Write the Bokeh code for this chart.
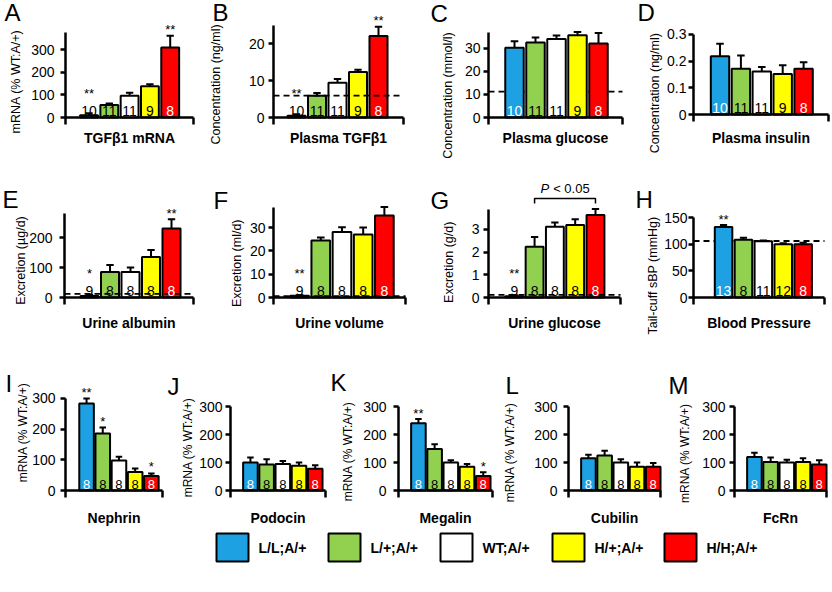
import math
from bokeh.plotting import figure
from bokeh.layouts import row, column
from bokeh.models import (FixedTicker, Label, Range1d, CustomJSTickFormatter, LinearAxis)
from bokeh.core.properties import value
from bokeh.embed import file_html
from bokeh.resources import INLINE

FONT = "Liberation Sans"

# ---------------- data ----------------
groups = ["L/L;A/+", "L/+;A/+", "WT;A/+", "H/+;A/+", "H/H;A/+"]
colors = ["#1DA1E2", "#92D050", "#FFFFFF", "#FFFF00", "#FF0000"]
n_colors = ["white", "black", "black", "black", "white"]

A_mean = [10, 55, 96, 138, 310]
A_err = [19, 62, 110, 147, 362]
A_n = ["10", "11", "11", "9", "8"]
A_sig = ["**", "", "", "", "**"]

B_mean = [0.5, 5.9, 9.4, 12.3, 22.0]
B_err = [0.9, 6.6, 10.4, 12.9, 24.5]
B_n = ["10", "11", "11", "9", "8"]
B_sig = ["**", "", "", "", "**"]
B_ref = 5.9

C_mean = [30.2, 32.5, 34.0, 35.6, 32.0]
C_err = [33.0, 34.6, 35.5, 37.0, 36.6]
C_n = ["10", "11", "11", "9", "8"]
C_sig = ["", "", "", "", ""]
C_ref = 11.2

D_mean = [0.218, 0.171, 0.161, 0.152, 0.171]
D_err = [0.265, 0.221, 0.178, 0.184, 0.196]
D_n = ["10", "11", "11", "9", "8"]
D_sig = ["", "", "", "", ""]

E_mean = [5, 85, 85, 135, 230]
E_err = [9, 108, 100, 158, 261]
E_n = ["9", "8", "8", "8", "8"]
E_sig = ["*", "", "", "", "**"]
E_ref = 12

F_mean = [0.7, 24.5, 28.1, 27.0, 35.2]
F_err = [1.0, 25.7, 30.2, 30.0, 38.8]
F_n = ["9", "8", "8", "8", "8"]
F_sig = ["**", "", "", "", ""]
F_ref = 0.6

G_mean = [0.06, 2.24, 3.12, 3.19, 3.63]
G_err = [0.1, 2.66, 3.3, 3.45, 3.9]
G_n = ["9", "8", "8", "8", "8"]
G_sig = ["**", "", "", "", ""]
G_ref = 0.12
G_compare = ["L/+;A/+", "H/H;A/+"]
G_p_text = ["P", "< 0.05"]

H_mean = [132.5, 108.5, 105.5, 100.0, 100.0]
H_err = [136, 112, 107, 102, 102.5]
H_n = ["13", "8", "11", "12", "8"]
H_sig = ["**", "", "", "", ""]
H_ref = 106

I_mean = [283, 186, 98, 60, 47]
I_err = [300, 205, 110, 72, 55]
I_sig = ["**", "*", "", "", "*"]
J_mean = [100, 93, 95, 88, 78]
J_err = [118, 112, 105, 100, 90]
J_sig = ["", "", "", "", ""]
K_mean = [240, 148, 100, 85, 52]
K_err = [255, 165, 108, 95, 65]
K_sig = ["**", "", "", "", "*"]
L_mean = [115, 125, 100, 85, 85]
L_err = [128, 142, 112, 100, 98]
L_sig = ["", "", "", "", ""]
M_mean = [120, 102, 100, 102, 93]
M_err = [135, 118, 110, 115, 108]
M_sig = ["", "", "", "", ""]
IM_n = ["8", "8", "8", "8", "8"]

ticks_pct = [0, 100, 200, 300]

# ---------------- layout (page coordinates, px) ----------------
R1 = dict(fy0=0, fy1=168, fb=117, tstand=12, nfs="14px", npx=7, yfs="12.5px")
R2 = dict(fy0=168, fy1=342, fb=297, tstand=17, nfs="14px", npx=7, yfs="12.5px")
R3 = dict(fy0=342, fy1=528, fb=490, tstand=19, nfs="13px", npx=6.5, yfs="12px",
          bw=0.9, cap=0.2)

cfg = {
    "A": dict(R1, fx0=0, fx1=205, fl=65, fr=193, xs=-0.158, ppx=20.3, ppu=0.2257, ytop=375, ls=6, ylx=15, yly=81, lx=4, ly=11.5),
    "B": dict(R1, fx0=205, fx1=428, fl=273, fr=403, xs=-0.122, ppx=20.5, ppu=3.7, ytop=25, ls=4, ylx=215, yly=84, lx=212, ly=11.5),
    "C": dict(R1, fx0=428, fx1=634, fl=488, fr=622, xs=-0.238, ppx=21.0, ppu=2.31, ytop=37, ls=3, ylx=447, yly=95, lx=430, ly=12.5),
    "D": dict(R1, fx0=634, fx1=832, fl=693, fr=828, xs=-0.268, ppx=20.9, ppu=267.0, ytop=0.3, ls=2, ylx=654, yly=91, lx=637, ly=11.5, fb=114, tstand=15),
    "E": dict(R2, fx0=0, fx1=210, fl=64, fr=193, xs=-0.22, ppx=20.5, ppu=0.3, ytop=280, ls=7, ylx=20, yly=260, lx=2, ly=198.5),
    "F": dict(R2, fx0=210, fx1=426, fl=273, fr=405, xs=-0.23, ppx=21.2, ppu=2.33, ytop=38.6, ls=3, ylx=236, yly=261, lx=213, ly=199.5),
    "G": dict(R2, fx0=426, fx1=632, fl=488, fr=620, xs=-0.27, ppx=20.3, ppu=22.7, ytop=3.88, ls=4, ylx=448, yly=260, lx=430, ly=200),
    "H": dict(R2, fx0=632, fx1=832, fl=693, fr=824, xs=-0.51, ppx=19.9, ppu=0.533, ytop=150, ls=1, ylx=652, yly=275, lx=635, ly=198.5),
    "I": dict(R3, fx0=0, fx1=165, fl=65, fr=162, xs=-0.3, ppx=16.2, ppu=0.307, ytop=300, ls=5, ylx=22, yly=432, lx=5, ly=382.5),
    "J": dict(R3, fx0=165, fx1=328, fl=230, fr=325, xs=-0.23, ppx=16.2, ppu=0.28, ytop=300, ls=3, ylx=187, yly=447, lx=167, ly=386),
    "K": dict(R3, fx0=328, fx1=498, fl=398, fr=492, xs=-0.23, ppx=16.2, ppu=0.28, ytop=300, ls=7, ylx=347, yly=451, lx=330, ly=382),
    "L": dict(R3, fx0=498, fx1=664, fl=568, fr=660, xs=-0.23, ppx=16.2, ppu=0.28, ytop=300, ls=6, ylx=509, yly=452, lx=505, ly=385),
    "M": dict(R3, fx0=664, fx1=832, fl=734, fr=826, xs=-0.23, ppx=16.2, ppu=0.28, ytop=300, ls=4, ylx=684, yly=451, lx=668, ly=385),
}

LEG = dict(fy0=528, fy1=592, x0=216, pitch=112, box_w=32, box_h=28, cy=547, gap=10)

fmt = CustomJSTickFormatter(code="return String(Math.round(tick*1000)/1000);")


def style_axis(ax):
    ax.axis_line_width = 2.5
    ax.axis_line_color = "black"
    ax.major_tick_line_width = 2.5
    ax.major_tick_in = 0
    ax.minor_tick_in = 0
    ax.minor_tick_out = 0


def panel(key, mean, err, n, sig, ticks, ylabel, title,
          ref=None, ref_front=True, compare=None, ptext=None):
    c = cfg[key]
    W = c["fx1"] - c["fx0"]
    Hh = c["fy1"] - c["fy0"]
    ppx, ppu = c["ppx"], c["ppu"]
    xs = c["xs"]
    xe = xs + (c["fr"] - c["fl"]) / ppx
    x_lo = xs - (c["fl"] - c["fx0"]) / ppx
    x_hi = x_lo + W / ppx
    y_lo = -(c["fy1"] - c["fb"]) / ppu
    y_hi = (c["fb"] - c["fy0"]) / ppu
    p = figure(width=W, height=Hh, output_backend="svg", toolbar_location=None,
               title=None, x_axis_type=None, y_axis_type=None,
               x_range=Range1d(x_lo, x_hi), y_range=Range1d(y_lo, y_hi),
               min_border_left=0, min_border_right=0, min_border_top=0, min_border_bottom=0)
    p.outline_line_color = None
    p.background_fill_color = "white"

    xsv = [i + 1 for i in range(len(groups))]
    if ref is not None and not ref_front:
        p.segment(x0=[xs], y0=[ref], x1=[xe], y1=[ref], line_color="black",
                  line_width=1.8, line_dash="6 4")
    p.vbar(x=xsv, top=mean, bottom=0, width=c.get("bw", 0.88), fill_color=colors,
           line_color="black", line_width=2)
    p.segment(x0=xsv, y0=mean, x1=xsv, y1=err, line_color="black", line_width=2)
    cw = c.get("cap", 0.18)
    p.segment(x0=[x - cw for x in xsv], y0=err, x1=[x + cw for x in xsv], y1=err,
              line_color="black", line_width=2)
    if ref is not None and ref_front:
        p.segment(x0=[xs], y0=[ref], x1=[xe], y1=[ref], line_color="black",
                  line_width=1.8, line_dash="6 4")

    tc = [n_colors[i] if mean[i] * ppu >= 12 else "black" for i in range(len(groups))]
    p.text(x=xsv, y=[c["npx"] / ppu] * len(groups), text=n, text_color=tc,
           text_font=value(FONT), text_font_size=c["nfs"], text_align="center",
           text_baseline="middle")

    sx, sy, st = [], [], []
    for i in range(len(groups)):
        if sig[i]:
            sx.append(xsv[i])
            sy.append(max(err[i] * ppu + 6, 24) / ppu)
            st.append(sig[i])
    if sx:
        p.text(x=sx, y=sy, text=st, text_font=value(FONT), text_font_size="13px",
               text_align="center", text_baseline="middle", text_color="black")

    if compare is not None:
        i0 = groups.index(compare[0])
        i1 = groups.index(compare[1])
        top = max(err[i0:i1 + 1]) + 10.5 / ppu
        drop = 5 / ppu
        p.line(x=[xsv[i0], xsv[i0], xsv[i1], xsv[i1]], y=[top - drop, top, top, top - drop],
               line_color="black", line_width=1.5)
        cx = (xsv[i0] + xsv[i1]) / 2
        ty = top + 10 / ppu
        p.text(x=[cx], y=[ty], text=[ptext[0]], text_font=value(FONT),
               text_font_size="13px", text_font_style="italic", text_align="left",
               text_baseline="middle", x_offset=-24.5)
        p.text(x=[cx], y=[ty], text=[ptext[1]], text_font=value(FONT),
               text_font_size="13px", text_align="left", text_baseline="middle",
               x_offset=-11.9)

    # y axis (fixed at the left end of the bar area)
    ya = LinearAxis(fixed_location=xs, bounds=(-7 / ppu, c["ytop"]),
                    ticker=FixedTicker(ticks=ticks), formatter=fmt)
    style_axis(ya)
    ya.major_tick_out = 5
    ya.major_label_text_font = FONT
    ya.major_label_text_font_size = "14px"
    ya.major_label_text_color = "black"
    ya.major_label_standoff = c["ls"]
    p.add_layout(ya, "left")

    # x axis (baseline) carrying the panel title
    xa = LinearAxis(fixed_location=0, bounds=(xs, xe), ticker=FixedTicker(ticks=[]),
                    formatter=fmt)
    style_axis(xa)
    xa.major_tick_out = 0
    xa.axis_label = title
    xa.axis_label_text_font = FONT
    xa.axis_label_text_font_style = "bold"
    xa.axis_label_text_font_size = "14px"
    xa.axis_label_text_color = "black"
    xa.axis_label_standoff = c["tstand"]
    p.add_layout(xa, "below")

    # short downward end mark at the right end of the baseline
    xr = LinearAxis(fixed_location=xe, bounds=(-7 / ppu, 0), ticker=FixedTicker(ticks=[]),
                    formatter=fmt)
    style_axis(xr)
    xr.major_tick_out = 0
    p.add_layout(xr, "left")

    p.add_layout(Label(x=c["ylx"] - c["fx0"], y=c["fy1"] - c["yly"], x_units="screen",
                       y_units="screen", text=ylabel, angle=math.pi / 2,
                       text_align="center", text_baseline="middle", text_font=FONT,
                       text_font_size=c["yfs"], text_color="black"))
    p.add_layout(Label(x=c["lx"] - c["fx0"], y=c["fy1"] - c["ly"], x_units="screen",
                       y_units="screen", text=key, text_align="left",
                       text_baseline="middle", text_font=FONT, text_font_size="24px",
                       text_color="black"))
    return p


pA = panel("A", A_mean, A_err, A_n, A_sig, ticks_pct, "mRNA (% WT:A/+)", "TGFβ1 mRNA")
pB = panel("B", B_mean, B_err, B_n, B_sig, [0, 10, 20], "Concentration (ng/ml)",
           "Plasma TGFβ1", ref=B_ref)
pC = panel("C", C_mean, C_err, C_n, C_sig, [0, 10, 20, 30], "Concentration (mmol/l)",
           "Plasma glucose", ref=C_ref, ref_front=False)
pD = panel("D", D_mean, D_err, D_n, D_sig, [0, 0.1, 0.2, 0.3], "Concentration  (ng/ml)",
           "Plasma insulin")
pE = panel("E", E_mean, E_err, E_n, E_sig, [0, 100, 200], "Excretion (µg/d)",
           "Urine albumin", ref=E_ref)
pF = panel("F", F_mean, F_err, F_n, F_sig, [0, 10, 20, 30], "Excretion  (ml/d)",
           "Urine volume", ref=F_ref)
pG = panel("G", G_mean, G_err, G_n, G_sig, [0, 1, 2, 3], "Excretion  (g/d)",
           "Urine glucose", ref=G_ref, compare=G_compare, ptext=G_p_text)
pH = panel("H", H_mean, H_err, H_n, H_sig, [0, 50, 100, 150], "Tail-cuff sBP (mmHg)",
           "Blood Pressure", ref=H_ref, ref_front=False)
pI = panel("I", I_mean, I_err, IM_n, I_sig, ticks_pct, "mRNA (% WT:A/+)", "Nephrin")
pJ = panel("J", J_mean, J_err, IM_n, J_sig, ticks_pct, "mRNA (% WT:A/+)", "Podocin")
pK = panel("K", K_mean, K_err, IM_n, K_sig, ticks_pct, "mRNA (% WT:A/+)", "Megalin")
pL = panel("L", L_mean, L_err, IM_n, L_sig, ticks_pct, "mRNA (% WT:A/+)", "Cubilin")
pM = panel("M", M_mean, M_err, IM_n, M_sig, ticks_pct, "mRNA  (% WT:A/+)", "FcRn")

# ---------------- legend (swatches + labels from the group arrays) ----------------
LH = LEG["fy1"] - LEG["fy0"]
pLeg = figure(width=832, height=LH, output_backend="svg", toolbar_location=None,
              title=None, x_axis_type=None, y_axis_type=None,
              x_range=Range1d(0, 832), y_range=Range1d(0, LH),
              min_border_left=0, min_border_right=0, min_border_top=0, min_border_bottom=0)
pLeg.outline_line_color = None
lefts = [LEG["x0"] + i * LEG["pitch"] for i in range(len(groups))]
cy = LEG["fy1"] - LEG["cy"]
pLeg.rect(x=[l + LEG["box_w"] / 2 for l in lefts], y=[cy] * len(groups),
          width=LEG["box_w"], height=LEG["box_h"], fill_color=colors,
          line_color="black", line_width=2)
pLeg.text(x=[l + LEG["box_w"] + LEG["gap"] for l in lefts], y=[cy] * len(groups),
          text=groups, text_font=value(FONT), text_font_style="bold",
          text_font_size="14px", text_align="left", text_baseline="middle",
          text_color="black")

layout = column(row(pA, pB, pC, pD), row(pE, pF, pG, pH), row(pI, pJ, pK, pL, pM), pLeg)

open("out.html", "w").write(file_html(layout, INLINE))
